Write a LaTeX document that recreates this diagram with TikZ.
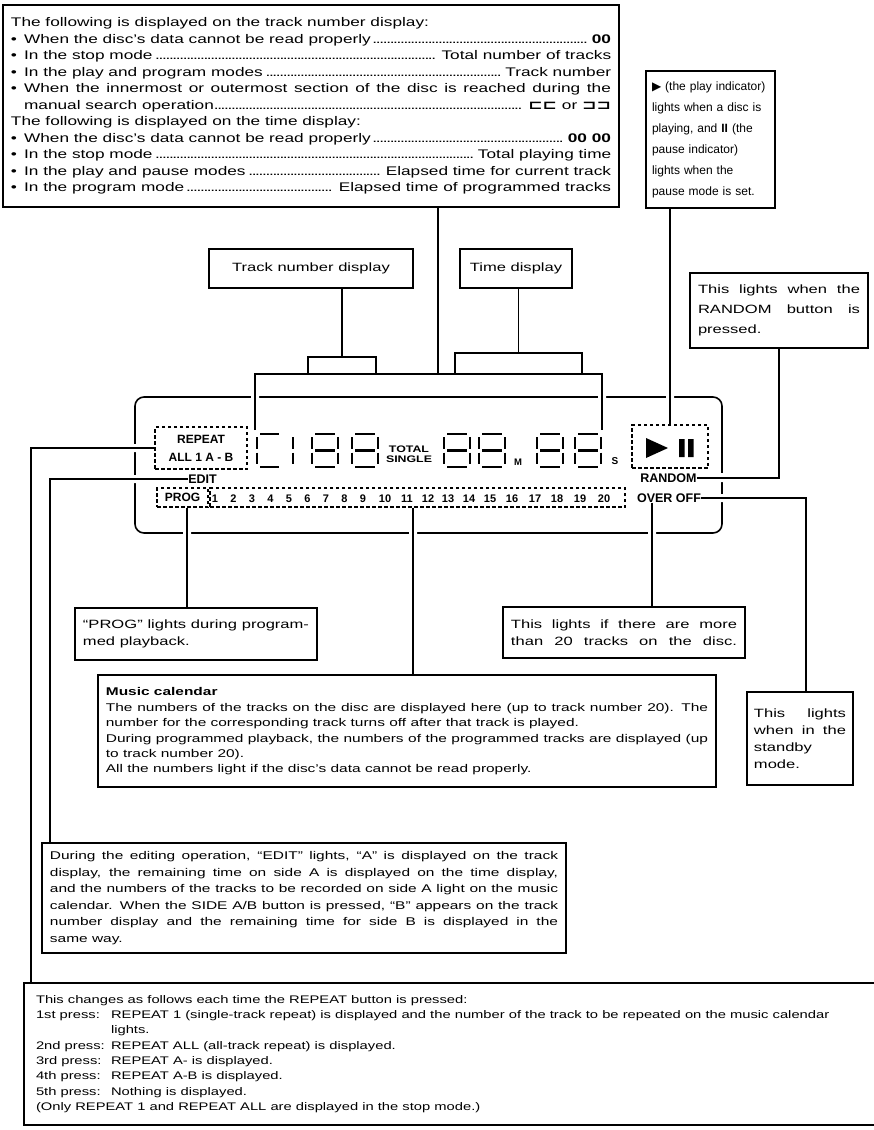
\documentclass[tikz,border=0pt]{standalone}
\usepackage{graphicx}
\usepackage{fontspec}
\setmainfont{Liberation Sans}
\newfontfamily\sym{DejaVu Sans}
\newcommand\jl[1]{\leavevmode\hbox to\linewidth{#1}}
\newcommand\dl{\leaders\hbox to 2.5pt{\hss.\hss}\hfill}
\newcommand\bul{\makebox[9.5pt][l]{•}}
% horizontally widened paragraph: #1 = unscaled width, #2 = text
\newcommand\wpar[2]{\scalebox{1.38}[1]{\parbox{#1}{\raggedright #2}}}
\newcommand\wtxt[1]{\scalebox{1.38}[1]{#1}}
\newcommand\eightat[1]{\begin{scope}[shift={(#1,434)}]
 \draw[seg] (3,0)--(23,0) (26,3)--(26,14.5) (26,18.5)--(26,30) (3,33)--(23,33)
  (0,18.5)--(0,30) (0,3)--(0,14.5) (3,16.5)--(23,16.5);\end{scope}}
\tikzset{
 box/.style={draw, line width=1.3pt, inner sep=0pt},
 smallbox/.style={draw, line width=1.2pt, inner sep=0pt},
 con/.style={line width=1.2pt},
 dbox/.style={draw, line width=1.2pt, dash pattern=on 3.5pt off 2.5pt, inner sep=0pt},
 lab/.style={font=\bfseries\fontsize{12.5}{13}\selectfont, inner sep=0pt},
 numf/.style={font=\bfseries\fontsize{11}{12}\selectfont, inner sep=0pt},
 seg/.style={line width=2.9pt},
}
\begin{document}
\begin{tikzpicture}[x=1pt,y=-1pt]
\useasboundingbox (0,0) rectangle (874,1130);
\clip (0,0) rectangle (874,1130);

% ---------- top explanation box
\node[box, font=\fontsize{12.5}{16.5}\selectfont, minimum width=616pt, minimum height=202pt] (top) at (311,106) {\wpar{434.8pt}{%
The following is displayed on the track number display:\\
\jl{\bul When the disc’s data cannot be read properly\dl\hspace{3pt}{\bfseries 00}}\\
\jl{\bul In the stop mode\dl\hspace{3pt}Total number of tracks}\\
\jl{\bul In the play and program modes\dl\hspace{3pt}Track number}\\
\jl{\bul When the innermost or outermost section of the disc is reached during the}\\
\jl{\hspace{9.5pt}manual search operation\dl\hspace{3pt}{\sym\bfseries ⊏⊏} or {\sym\bfseries ⊐⊐}}\\
The following is displayed on the time display:\\
\jl{\bul When the disc’s data cannot be read properly\dl\hspace{3pt}{\bfseries 00 00}}\\
\jl{\bul In the stop mode\dl\hspace{3pt}Total playing time}\\
\jl{\bul In the play and pause modes\dl\hspace{3pt}Elapsed time for current track}\\
\jl{\bul In the program mode\dl\hspace{3pt}Elapsed time of programmed tracks}}};

% ---------- play indicator box
\node[box, inner xsep=6pt, align=left, font=\fontsize{12}{21}\selectfont, text width=117pt, minimum height=137pt] (play) at (710.5,139.5) {%
\jl{{\sym ▶} (the play indicator)}\\
\jl{lights when a disc is}\\
\jl{playing, and \textbf{II} (the}\\
\jl{pause indicator)}\\
\jl{lights when the}\\
pause mode is set.};

% ---------- random box
\node[box, font=\fontsize{12}{20}\selectfont, minimum width=178pt, minimum height=75pt] (rand) at (779,310.5) {\wpar{117.4pt}{%
\jl{This lights when the}\\
\jl{RANDOM button is}\\
pressed.}};

% ---------- label boxes
\node[box, font=\fontsize{12}{14}\selectfont, minimum width=204pt, minimum height=39pt] (tnd) at (311,268.5) {\wtxt{Track number display}};
\node[box, font=\fontsize{12}{14}\selectfont, minimum width=112pt, minimum height=39pt] (td) at (516,268.5) {\wtxt{Time display}};
\node[smallbox, minimum width=68pt, minimum height=17pt] (tsm) at (342,365.5) {};
\node[smallbox, minimum width=127pt, minimum height=21pt] (tdm) at (518.5,363.5) {};

% ---------- display housing
\node[draw, line width=1.6pt, rounded corners=9pt, minimum width=587pt, minimum height=136pt, inner sep=0pt] (hous) at (428.5,465) {};
\fill[white] (251,393) rectangle (259,401) (598,393) rectangle (606,401) (666,393) rectangle (674,401)
 (183,529) rectangle (191,537) (409,529) rectangle (417,537) (648,529) rectangle (656,537)
 (718,473) rectangle (726,482) (718,494) rectangle (726,502)
 (131,444) rectangle (139,452) (131,475) rectangle (139,483);

% dashed indicator groups
\node[dbox, align=center, font=\bfseries\fontsize{12}{18}\selectfont, minimum width=92pt, minimum height=42pt] (rep) at (201,448) {REPEAT\\ALL 1 A - B};
\node[dbox, minimum width=76pt, minimum height=43pt] (pp) at (670,446.5) {};
\fill (646,438) -- (668,448) -- (646,458) -- cycle;
\fill (679,439) rectangle (684.5,457) (688,439) rectangle (693.5,457);
\node[dbox, font=\bfseries\fontsize{12}{12}\selectfont, minimum width=51pt, minimum height=19pt] (prog) at (182.5,497.5) {PROG};
\node[dbox, minimum width=415pt, minimum height=19pt] (nums) at (417.5,497.5) {};
\foreach \n/\x in {1/215,2/233.5,3/252,4/270.5,5/289,6/307.5,7/326,8/344.5,9/363,10/385,11/407,12/428,13/448,14/469,15/490,16/512,17/535,18/557,19/580,20/604}
 \node[numf] (n\n) at (\x,498.5) {\n};

% segment digits
\begin{scope}[shift={(257,434)}]
 \draw[seg] (3,0)--(22,0) (0,3)--(0,14.5) (0,18.5)--(0,30) (3,33)--(22,33);
\end{scope}
\draw[seg] (293,437)--(293,448.5) (293,452.5)--(293,464);
\foreach \xx in {312,352,444,479,537,575} {\eightat{\xx}}
\node[font=\bfseries\fontsize{9.5}{13.5}\selectfont, inner sep=0pt] (tot) at (409,454) {\scalebox{1.3}[1]{\shortstack{TOTAL\\SINGLE}}};
\node[font=\bfseries\fontsize{9.5}{9}\selectfont, inner sep=0pt] (mlab) at (518,462) {M};
\node[font=\bfseries\fontsize{10}{9}\selectfont, inner sep=0pt] (slab) at (615,461) {S};

\node[lab] (edit) at (202.5,479) {EDIT};
\node[lab] (rnd) at (668.5,478) {RANDOM};
\node[lab] (ovr) at (669,498) {OVER OFF};

% ---------- lower explanation boxes
\node[box, font=\fontsize{12}{17}\selectfont, minimum width=242pt, minimum height=52pt] (progbox) at (196,634) {\wpar{163.8pt}{%
\jl{“PROG” lights during program-}\\
med playback.}};
\node[box, font=\fontsize{12}{17}\selectfont, minimum width=242pt, minimum height=51pt] (overbox) at (624,632.5) {\wpar{163.8pt}{%
\jl{This lights if there are more}\\
\jl{than 20 tracks on the disc.}}};
\node[box, font=\fontsize{11.2}{15.3}\selectfont, minimum width=618pt, minimum height=112pt] (cal) at (407,731) {\wpar{436.4pt}{%
{\bfseries Music calendar}\\[1pt]
\jl{The numbers of the tracks on the disc are displayed here (up to track number 20). The}\\
number for the corresponding track turns off after that track is played.\\
\jl{During programmed playback, the numbers of the programmed tracks are displayed (up}\\
to track number 20).\\
All the numbers light if the disc’s data cannot be read properly.}};
\node[box, font=\fontsize{12}{17}\selectfont, minimum width=106pt, minimum height=93pt] (stby) at (800,738.5) {\wpar{66.7pt}{%
\jl{This lights}\\
\jl{when in the}\\
standby\\
mode.}};
\node[box, font=\fontsize{11.2}{16.5}\selectfont, minimum width=524pt, minimum height=110pt] (editbox) at (304,898) {\wpar{368.2pt}{%
\jl{During the editing operation, “EDIT” lights, “A” is displayed on the track}\\
\jl{display, the remaining time on side A is displayed on the time display,}\\
\jl{and the numbers of the tracks to be recorded on side A light on the music}\\
\jl{calendar. When the SIDE A/B button is pressed, “B” appears on the track}\\
\jl{number display and the remaining time for side B is displayed in the}\\
same way.}};
\node[box, font=\fontsize{11}{15.3}\selectfont, minimum width=876pt, minimum height=142pt] (repbox) at (462,1054) {\hbox to 852pt{\scalebox{1.34}[1]{\parbox{612pt}{\raggedright
This changes as follows each time the REPEAT button is pressed:\\
\makebox[56pt][l]{1st press:}REPEAT 1 (single-track repeat) is displayed and the number of the track to be repeated on the music calendar\\
\hspace*{56pt}lights.\\
\makebox[56pt][l]{2nd press:}REPEAT ALL (all-track repeat) is displayed.\\
\makebox[56pt][l]{3rd press:}REPEAT A- is displayed.\\
\makebox[56pt][l]{4th press:}REPEAT A-B is displayed.\\
\makebox[56pt][l]{5th press:}Nothing is displayed.\\
(Only REPEAT 1 and REPEAT ALL are displayed in the stop mode.)}}\hss}};

% ---------- connectors
\coordinate (bk) at (438,374);
\coordinate (bl) at (255,430);
\coordinate (br) at (602,430);
\draw[con] (top.south -| bk) -- (bk);
\draw[con] (bl) |- (bk) -| (br);
\draw[con] (tsm.north) -- (tsm.north |- tnd.south);
\draw[con] (tdm.north) -- (tdm.north |- td.south);
\draw[con] (pp.north) -- (pp.north |- play.south);
\draw[con] (rnd.east) -| (rand.south);
\coordinate (rpx) at (31,983);
\draw[con] (rep.west) -| (rpx);
\coordinate (edx) at (50,843);
\draw[con] (edit.west) -| (edx);
\coordinate (pgx) at (187,608);
\draw[con] (pgx |- prog.south) -- (pgx);
\coordinate (clx) at (413,675);
\draw[con] (clx |- nums.south) -- (clx);
\coordinate (ovx) at (652,607);
\draw[con] (ovx |- ovr.south) -- (ovx);
\coordinate (sbx) at (806,692);
\draw[con] (ovr.east) -| (sbx);
\end{tikzpicture}
\end{document}
